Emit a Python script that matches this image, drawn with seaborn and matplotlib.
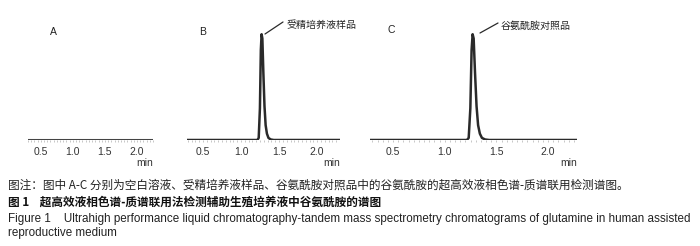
import matplotlib
matplotlib.use("Agg")
import matplotlib.pyplot as plt
import seaborn as sns
import pandas as pd

sns.set_theme(style="white")
plt.rcParams['font.family'] = ['Liberation Sans', 'Noto Sans CJK SC', 'DejaVu Sans']

# ---- data ----
panel_labels = ["A", "B", "C"]
baseline_time = [0.25, 2.30]
baseline_signal = [0.0, 0.0]
peak_time = [0.25, 1.215, 1.232, 1.248, 1.26, 1.27, 1.28, 1.293, 1.308, 1.323, 1.34, 1.36, 1.39, 1.43, 2.30]
peak_signal_b = [0, 0, 2, 30, 85, 100, 96, 64, 32, 14, 6, 2, 0.5, 0, 0]
peak_signal_c = [0, 0, 2, 30, 85, 100, 96, 64, 32, 14, 6, 2, 0.5, 0, 0]
peak_names = [None, "受精培养液样品", "谷氨酰胺对照品"]
tick_values = [0.5, 1.0, 1.5, 2.0]
tick_labels = ["0.5", "1.0", "1.5", "2.0"]
x_unit = "min"

caption_note = "图注：图中 A-C 分别为空白溶液、受精培养液样品、谷氨酰胺对照品中的谷氨酰胺的超高效液相色谱-质谱联用检测谱图。"
caption_title_cn = "图 1    超高效液相色谱-质谱联用法检测辅助生殖培养液中谷氨酰胺的谱图"
caption_title_en_1 = "Figure 1    Ultrahigh performance liquid chromatography-tandem mass spectrometry chromatograms of glutamine in human assisted"
caption_title_en_2 = "reproductive medium"

series = [
    (baseline_time, baseline_signal),
    (peak_time, peak_signal_b),
    (peak_time, peak_signal_c),
]

W, H = 700, 246
fig = plt.figure(figsize=(W / 100, H / 100), dpi=100)

# axes geometry in pixels: (left, right), xlim
geo = [
    ((28, 153), (0.30, 2.23)),
    ((187, 340), (0.29, 2.30)),
    ((370, 577), (0.277, 2.28)),
]
base_y, top_y = 140, 30
ymax = 104

label_pos = [(53, 32), (203, 32), (391, 30)]
leaders = [None, ((265, 34), (283, 22)), ((480, 33), (498, 23))]

line_color = "#2a2a2a"
for i, ((l, r), xl) in enumerate(geo):
    ax = fig.add_axes([l / W, (H - base_y) / H, (r - l) / W, (base_y - top_y) / H])
    t, s = series[i]
    df = pd.DataFrame({"time": t, "signal": s})
    sns.lineplot(data=df, x="time", y="signal", ax=ax,
                 color="#444444" if i == 0 else line_color,
                 linewidth=2.2 if i == 0 else 1.8, estimator=None, sort=False)
    ax.set_xlim(*xl)
    ax.set_ylim(0, ymax)
    for sp in ax.spines.values():
        sp.set_visible(False)
    ax.set_xlabel("")
    ax.set_ylabel("")
    ax.set_yticks([])
    ax.set_xticks(tick_values)
    ax.set_xticklabels(tick_labels)
    ax.set_xticks([v / 20 for v in range(6, 46)], minor=True)
    ax.tick_params(axis="x", which="both", bottom=True, length=1.5, width=0.5,
                   color="#b0b0b0", direction="out", pad=3.5, labelsize=7.5,
                   labelcolor="#333333")
    ax.patch.set_alpha(0)
    ax.text(1.0, (base_y - 163) / (base_y - top_y), x_unit, transform=ax.transAxes,
            ha="right", va="center", fontsize=7.5, color="#333333")
    lx, ly = label_pos[i]
    fig.text(lx / W, 1 - ly / H, panel_labels[i], ha="center", va="center",
             fontsize=7.5, color="#222222")
    if leaders[i] is not None:
        (x0, y0), (x1, y1) = leaders[i]
        fig.add_artist(plt.Line2D([x0 / W, x1 / W], [1 - y0 / H, 1 - y1 / H],
                                  transform=fig.transFigure, color=line_color, lw=0.9))
        fig.text((x1 + 3) / W, 1 - (y1 + 3) / H, peak_names[i], ha="left", va="center",
                 fontsize=7.2, color="#222222",
                 family=['Noto Sans CJK SC', 'DejaVu Sans'])

cap_x = 8 / W
fig.text(cap_x, 1 - 185 / H, caption_note, ha="left", va="center", fontsize=8.4,
         color="#222222", family=['Noto Sans CJK SC', 'DejaVu Sans'])
fig.text(cap_x, 1 - 202 / H, caption_title_cn, ha="left", va="center", fontsize=8.4,
         color="#111111", fontweight="bold", family=['Noto Sans CJK SC', 'DejaVu Sans'])
fig.text(cap_x, 1 - 219 / H, caption_title_en_1, ha="left", va="center", fontsize=8.4,
         color="#222222", family=['Liberation Sans', 'DejaVu Sans'])
fig.text(cap_x, 1 - 233 / H, caption_title_en_2, ha="left", va="center", fontsize=8.4,
         color="#222222", family=['Liberation Sans', 'DejaVu Sans'])

fig.savefig("out.png", dpi=100, facecolor="white")
